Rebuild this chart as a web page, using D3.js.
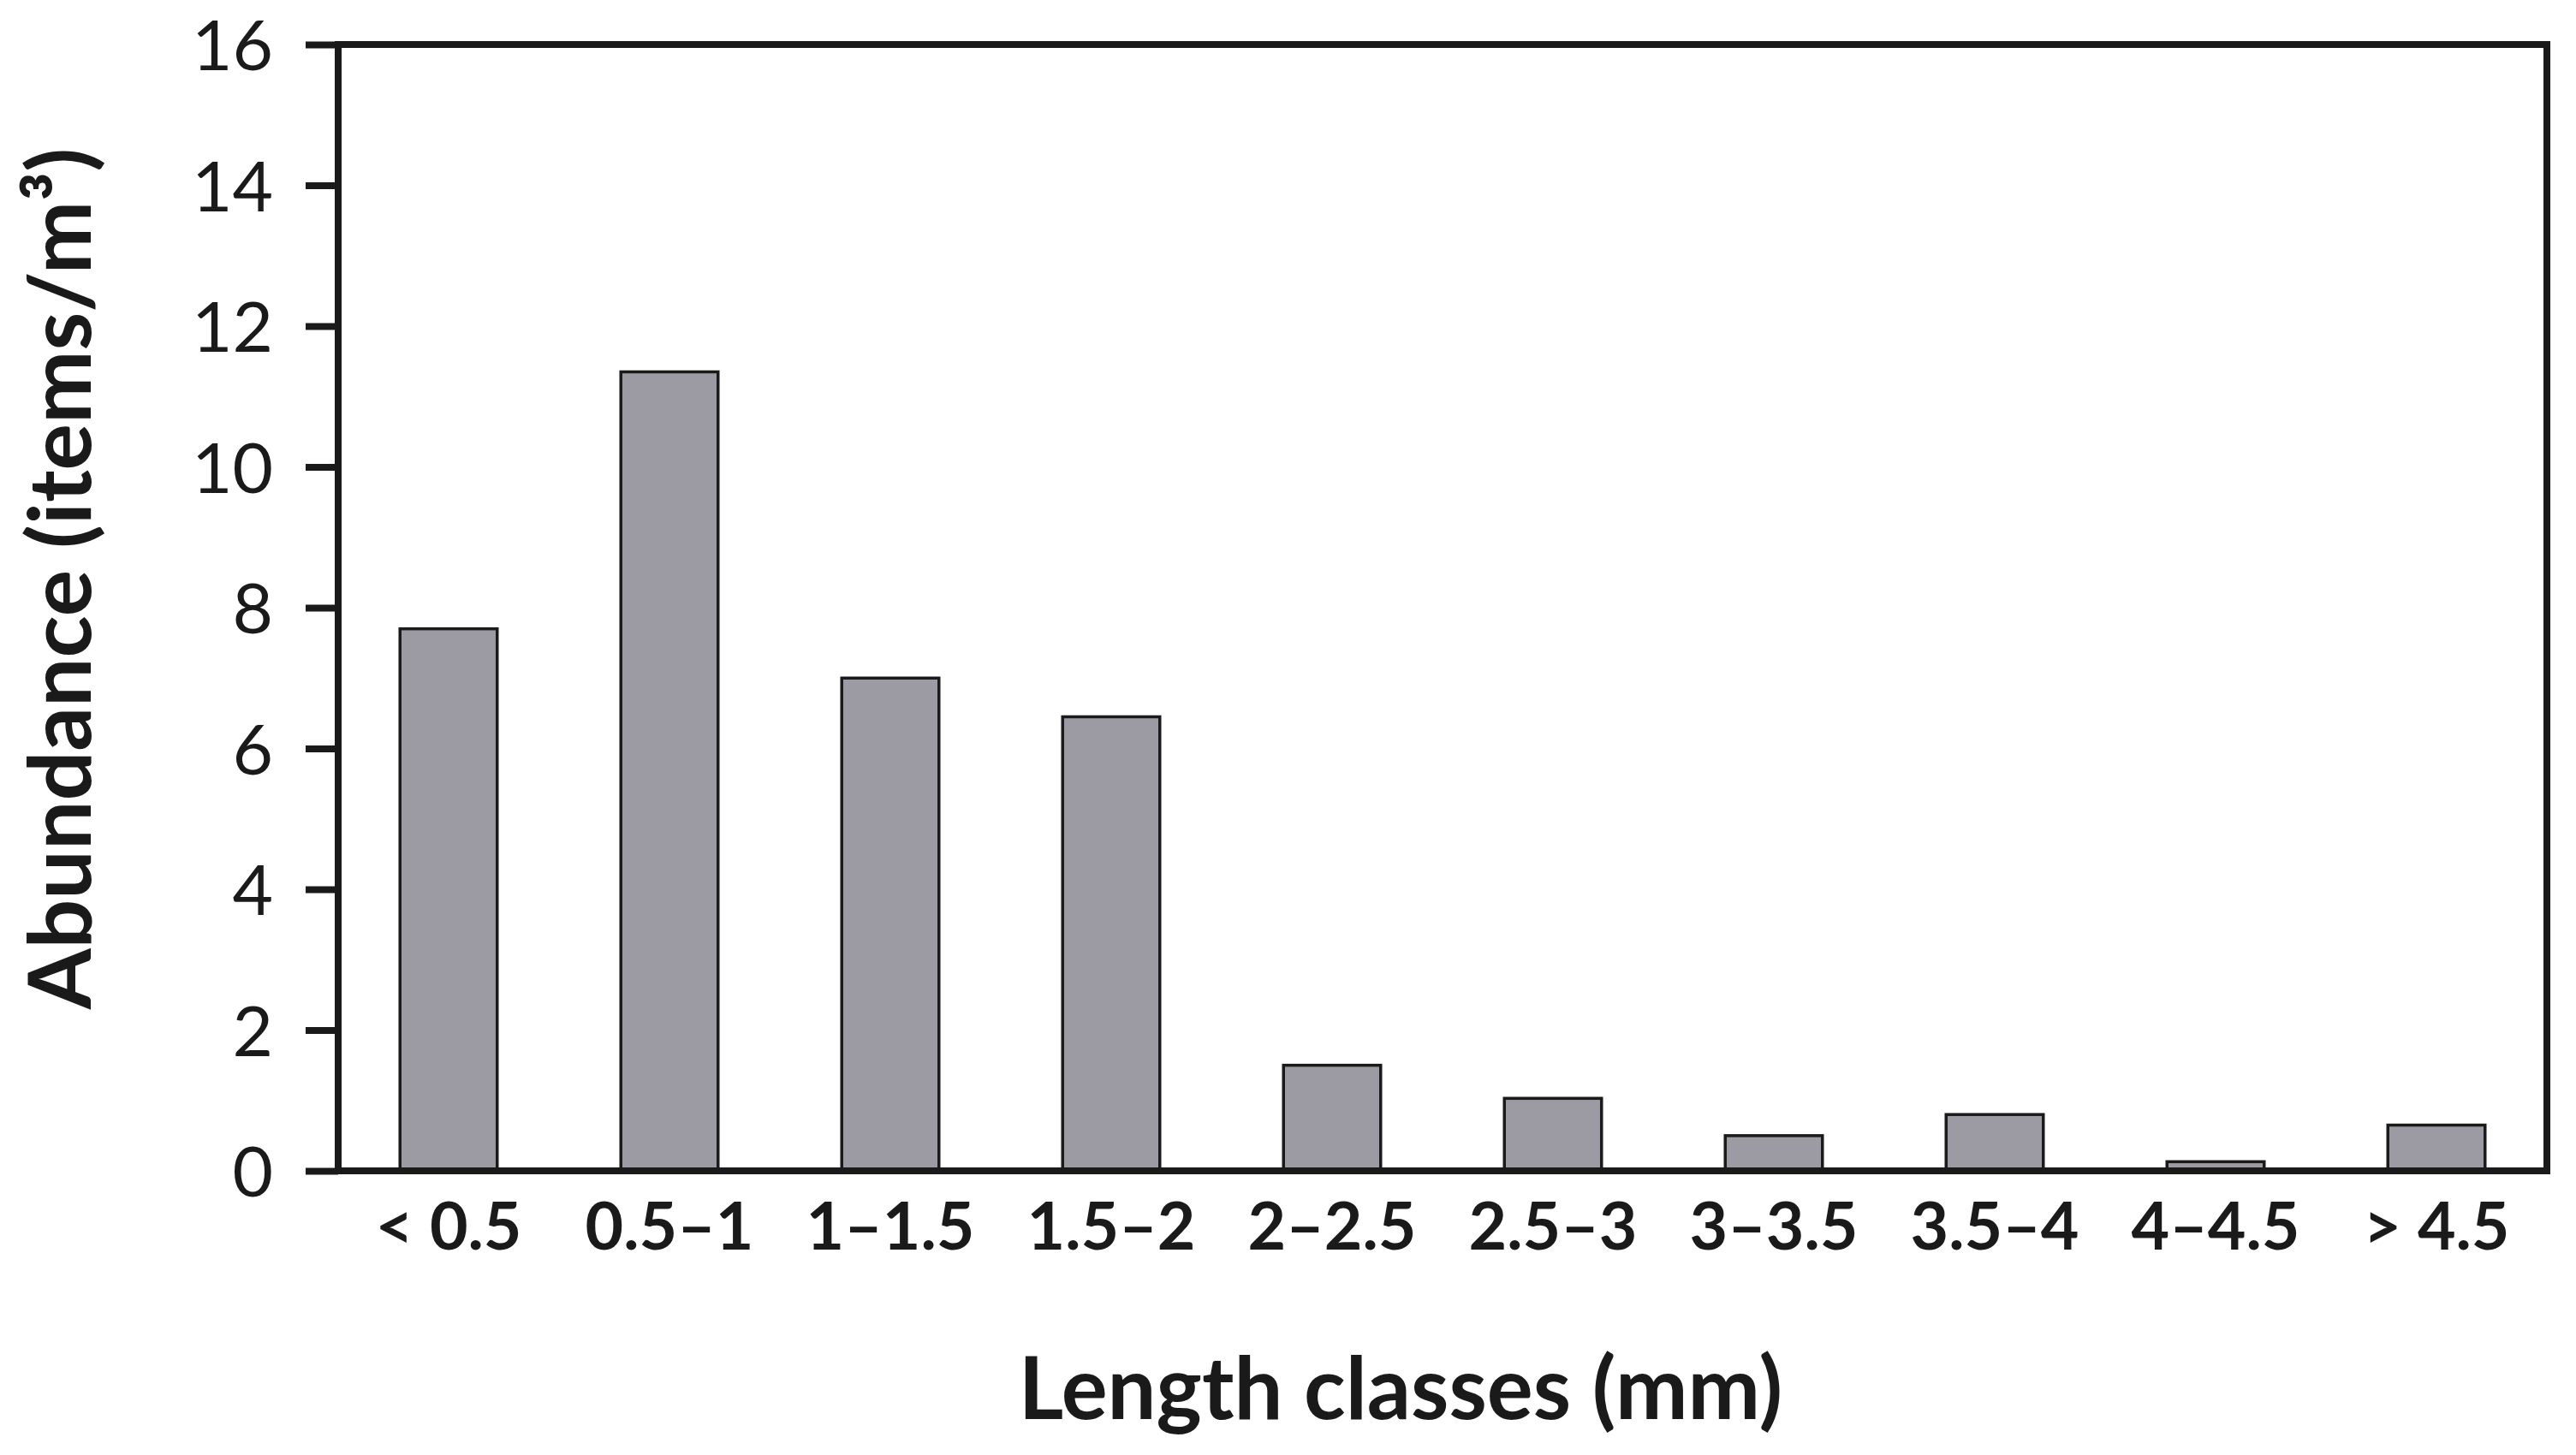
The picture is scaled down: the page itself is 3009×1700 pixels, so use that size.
<!DOCTYPE html>
<html>
<head>
<meta charset="utf-8">
<script src="https://cdn.jsdelivr.net/npm/d3@7/dist/d3.min.js"></script>
<style>
  html, body { margin: 0; padding: 0; background: #ffffff; }
  svg { display: block; }
</style>
</head>
<body>
<svg id="chart" width="3009" height="1700"></svg>
<script>
// ---- Data ----
const categories = ["< 0.5", "0.5–1", "1–1.5", "1.5–2", "2–2.5", "2.5–3", "3–3.5", "3.5–4", "4–4.5", "> 4.5"];
const abundance = [7.7, 11.35, 7.0, 6.45, 1.5, 1.03, 0.5, 0.8, 0.13, 0.65];
const yTicks = [0, 2, 4, 6, 8, 10, 12, 14, 16];
const xTitle = "Length classes (mm)";
const yTitle = "Abundance (items/m³)";

// ---- Layout ----
const plot = { left: 395, right: 2975, top: 52, bottom: 1368 };
const fontFamily = "Lato, 'Open Sans', 'Noto Sans', sans-serif";

const svg = d3.select("#chart");

const x = d3.scaleBand()
  .domain(categories)
  .range([plot.left, plot.right])
  .paddingInner(0.56)
  .paddingOuter(0.28);

const y = d3.scaleLinear()
  .domain([0, 16])
  .range([plot.bottom, plot.top]);

const data = categories.map((c, i) => ({ cat: c, val: abundance[i] }));

// Bars
svg.append("g")
  .selectAll("rect")
  .data(data)
  .join("rect")
  .attr("x", d => x(d.cat))
  .attr("y", d => y(d.val))
  .attr("width", x.bandwidth())
  .attr("height", d => y(0) - y(d.val))
  .attr("fill", "#9c9ba3")
  .attr("stroke", "#1a1a1a")
  .attr("stroke-width", 3.5);

// Y axis
const yAxis = svg.append("g")
  .attr("transform", `translate(${plot.left},0)`)
  .call(d3.axisLeft(y).tickValues(yTicks).tickSize(38).tickPadding(38).tickSizeOuter(0));
yAxis.select(".domain").remove();
yAxis.selectAll(".tick line").attr("stroke", "#1a1a1a").attr("stroke-width", 8);
yAxis.selectAll(".tick text")
  .attr("font-family", fontFamily)
  .attr("font-size", 82)
  .attr("font-weight", 400)
  .attr("fill", "#1a1a1a")
  .attr("dy", "0.36em");

// X axis
const xAxis = svg.append("g")
  .attr("transform", `translate(0,${plot.bottom})`)
  .call(d3.axisBottom(x).tickSize(0).tickSizeOuter(0));
xAxis.select(".domain").remove();
xAxis.selectAll(".tick text")
  .attr("font-family", fontFamily)
  .attr("font-size", 77)
  .attr("font-weight", 700)
  .attr("fill", "#1a1a1a")
  .attr("y", 92)
  .attr("dy", 0);

// Frame (axes lines + top/right border)
svg.append("rect")
  .attr("x", plot.left)
  .attr("y", plot.top)
  .attr("width", plot.right - plot.left)
  .attr("height", plot.bottom - plot.top)
  .attr("fill", "none")
  .attr("stroke", "#1a1a1a")
  .attr("stroke-width", 8);

// Axis titles
svg.append("text")
  .attr("x", 1636)
  .attr("y", 1658)
  .attr("text-anchor", "middle")
  .attr("font-family", fontFamily)
  .attr("font-size", 101)
  .attr("font-weight", 700)
  .attr("fill", "#1a1a1a")
  .text(xTitle);

svg.append("text")
  .attr("transform", "translate(106,676) rotate(-90)")
  .attr("text-anchor", "middle")
  .attr("font-family", fontFamily)
  .attr("font-size", 102)
  .attr("font-weight", 700)
  .attr("fill", "#1a1a1a")
  .text(yTitle);
</script>
</body>
</html>
